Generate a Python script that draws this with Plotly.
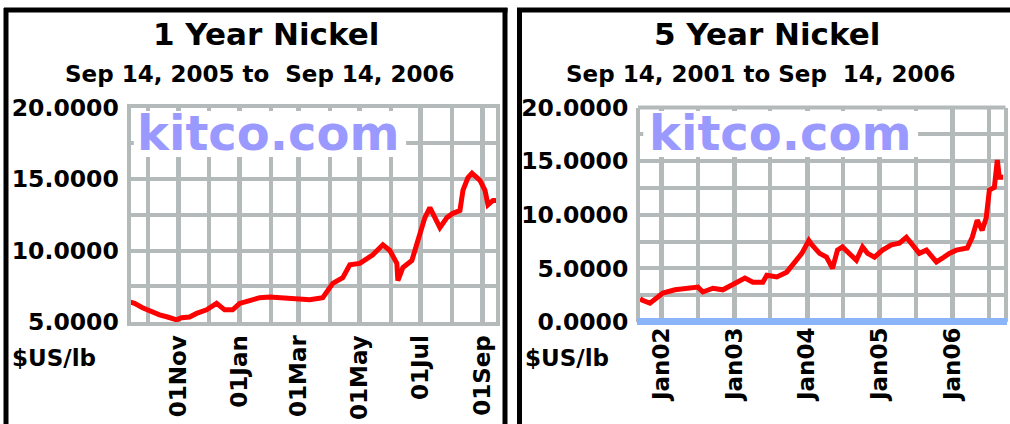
import plotly.graph_objects as go

W, H = 1010, 424

# ---------------- data ----------------
one_year_dates = [
    "2005-09-14", "2005-09-18", "2005-09-26", "2005-10-06", "2005-10-13", "2005-10-21",
    "2005-10-30", "2005-11-04", "2005-11-12", "2005-11-19", "2005-11-29", "2005-12-09",
    "2005-12-17", "2005-12-25", "2006-01-01", "2006-01-11", "2006-01-21", "2006-01-31",
    "2006-02-13", "2006-02-27", "2006-03-12", "2006-03-25", "2006-03-30", "2006-04-04",
    "2006-04-14", "2006-04-21", "2006-05-01", "2006-05-14", "2006-05-24", "2006-05-31",
    "2006-06-07", "2006-06-08", "2006-06-13", "2006-06-22", "2006-06-28", "2006-07-05",
    "2006-07-10", "2006-07-17", "2006-07-20", "2006-07-27", "2006-08-02", "2006-08-09",
    "2006-08-12", "2006-08-17", "2006-08-21", "2006-08-26", "2006-08-29", "2006-09-03",
    "2006-09-06", "2006-09-11", "2006-09-14",
]
one_year_values = [
    6.4, 6.3, 6.0, 5.7, 5.5, 5.35,
    5.15, 5.3, 5.35, 5.6, 5.85, 6.3,
    5.85, 5.85, 6.3, 6.5, 6.7, 6.75,
    6.7, 6.6, 6.55, 6.7, 7.2, 7.7,
    8.1, 9.0, 9.1, 9.7, 10.4, 10.0,
    9.1, 7.9, 8.8, 9.3, 10.7, 12.3,
    13.0, 12.1, 11.6, 12.3, 12.6, 12.8,
    14.2, 15.1, 15.4, 15.1, 14.9, 14.2,
    13.2, 13.5, 13.5,
]

five_year_dates = [
    "2001-09-14", "2001-09-24", "2001-11-03", "2001-12-08", "2002-01-07", "2002-03-09",
    "2002-05-08", "2002-07-02", "2002-07-27", "2002-09-15", "2002-11-04", "2003-01-04",
    "2003-02-23", "2003-04-04", "2003-05-24", "2003-06-13", "2003-08-02", "2003-09-21",
    "2003-10-31", "2003-12-06", "2004-01-10", "2004-01-25", "2004-03-04", "2004-04-08",
    "2004-05-08", "2004-06-02", "2004-06-27", "2004-08-01", "2004-09-05", "2004-10-06",
    "2004-10-31", "2004-12-05", "2005-01-14", "2005-02-28", "2005-04-09", "2005-05-14",
    "2005-06-13", "2005-07-18", "2005-08-23", "2005-10-12", "2005-11-11", "2005-12-16",
    "2006-01-20", "2006-03-16", "2006-04-10", "2006-05-05", "2006-05-30", "2006-06-19",
    "2006-07-05", "2006-07-30", "2006-08-14", "2006-08-24", "2006-09-14",
]
five_year_values = [
    2.2, 2.05, 1.75, 2.2, 2.7, 3.0,
    3.15, 3.25, 2.8, 3.15, 3.0, 3.6,
    4.1, 3.7, 3.7, 4.35, 4.2, 4.65,
    5.5, 6.4, 7.6, 7.2, 6.4, 6.05,
    5.0, 6.7, 7.0, 6.4, 5.75, 7.0,
    6.4, 6.05, 6.7, 7.2, 7.35, 7.9,
    7.2, 6.4, 6.7, 5.6, 5.95, 6.4,
    6.7, 6.9, 7.9, 9.5, 8.55, 9.7,
    12.3, 12.55, 15.1, 13.5, 13.5,
]

left_ytick_vals = [5, 10, 15, 20]
left_ytick_text = ["5.0000", "10.0000", "15.0000", "20.0000"]
left_yminor_vals = [7.5, 12.5, 17.5]
right_ytick_vals = [0, 5, 10, 15, 20]
right_ytick_text = ["0.0000", "5.0000", "10.0000", "15.0000", "20.0000"]
right_yminor_vals = [2.5, 7.5, 12.5, 17.5]

left_xtick_vals = ["2005-11-01", "2006-01-01", "2006-03-01", "2006-05-01", "2006-07-01", "2006-09-01"]
left_xtick_text = ["01Nov", "01Jan", "01Mar", "01May", "01Jul", "01Sep"]
left_xminor_vals = ["2005-10-01", "2005-12-01", "2006-02-01", "2006-04-01", "2006-06-01", "2006-08-01"]
right_xtick_vals = ["2002-01-01", "2003-01-01", "2004-01-01", "2005-01-01", "2006-01-01"]
right_xtick_text = ["Jan02", "Jan03", "Jan04", "Jan05", "Jan06"]
right_xminor_vals = ["2002-07-01", "2003-07-01", "2004-07-01", "2005-07-01", "2006-07-01"]

titles = ["1 Year Nickel", "5 Year Nickel"]
subtitles = ["Sep 14, 2005 to  Sep 14, 2006", "Sep 14, 2001 to Sep  14, 2006"]
unit_label = "$US/lb"
watermark = "kitco.com"

# ---------------- styling ----------------
GRID = "rgb(180,185,185)"
RED = "#ff0000"
BLUE = "#8cb4f8"
WM = "#9999ff"
FONT = "DejaVu Sans"


def px(p):
    return p / W


def py(p):
    return 1 - p / H


tickfont = dict(family=FONT, size=23.5, color="black", weight="bold")
xtickfont = dict(family=FONT, size=23, color="black", weight="bold")

fig = go.Figure()
fig.add_trace(go.Scatter(x=one_year_dates, y=one_year_values, mode="lines",
                         line=dict(color=RED, width=5), xaxis="x", yaxis="y",
                         showlegend=False, hoverinfo="skip"))
fig.add_trace(go.Scatter(x=five_year_dates, y=five_year_values, mode="lines",
                         line=dict(color=RED, width=5), xaxis="x2", yaxis="y2",
                         showlegend=False, hoverinfo="skip"))


def xaxis_cfg(domain, rng, tv, tt, mv, anchor, line=True):
    return dict(domain=domain, range=rng, type="date", anchor=anchor,
                tickmode="array", tickvals=tv, ticktext=tt, tickangle=-90,
                tickfont=xtickfont, ticks="",
                showgrid=True, gridcolor=GRID, gridwidth=5,
                minor=dict(tickmode="array", tickvals=mv, showgrid=True,
                           gridcolor=GRID, gridwidth=4, ticks=""),
                showline=line, mirror=True, linecolor=GRID, linewidth=4,
                zeroline=False, fixedrange=True, automargin=False)


def yaxis_cfg(domain, rng, tv, tt, mv, anchor):
    return dict(domain=domain, range=rng, anchor=anchor,
                tickmode="array", tickvals=tv, ticktext=tt,
                tickfont=tickfont, ticks="outside", ticklen=3, tickcolor="rgba(0,0,0,0)",
                showgrid=True, gridcolor=GRID, gridwidth=4,
                minor=dict(tickmode="array", tickvals=mv, showgrid=True,
                           gridcolor=GRID, gridwidth=4, ticks=""),
                showline=True, mirror=True, linecolor=GRID, linewidth=4,
                zeroline=False, fixedrange=True, automargin=False)


ydom = [py(322), py(107.5)]
fig.update_layout(
    xaxis=xaxis_cfg([px(130.5), px(496)], ["2005-09-14", "2006-09-14"],
                    left_xtick_vals, left_xtick_text, left_xminor_vals, "y"),
    yaxis=yaxis_cfg(ydom, [5, 20], left_ytick_vals, left_ytick_text, left_yminor_vals, "x"),
    xaxis2=xaxis_cfg([px(640), px(1003.5)], ["2001-09-14", "2006-09-14"],
                     right_xtick_vals, right_xtick_text, right_xminor_vals, "y2", line=False),
    yaxis2=yaxis_cfg(ydom, [0, 20], right_ytick_vals, right_ytick_text, right_yminor_vals, "x2"),
)

shapes = []
# gray top frame of the 5 year chart (its x axis line is replaced by the blue base line)
shapes.append(dict(type="line", xref="paper", yref="paper", x0=px(638), x1=px(1005.5),
                   y0=py(107.5), y1=py(107.5), line=dict(color=GRID, width=4), layer="above"))
# white watermark boxes
for xr, yr, x1 in (("x domain", "y domain", 0.754), ("x2 domain", "y2 domain", 0.765)):
    shapes.append(dict(type="rect", xref=xr, yref=yr, x0=0.009, x1=x1, y0=0.769, y1=0.984,
                       fillcolor="white", line=dict(width=0), layer="above"))
# blue base line on the 5 year chart
shapes.append(dict(type="line", xref="paper", yref="paper", x0=px(637), x1=px(1007),
                   y0=py(321.5), y1=py(321.5), line=dict(color=BLUE, width=7), layer="above"))
# black panel frames
frame = dict(color="black", width=5)
shapes += [
    dict(type="line", xref="paper", yref="paper", x0=px(6), x1=px(6), y0=py(8), y1=-0.1, line=frame),
    dict(type="line", xref="paper", yref="paper", x0=px(4), x1=px(507.5), y0=py(10), y1=py(10), line=frame),
    dict(type="line", xref="paper", yref="paper", x0=px(505), x1=px(505), y0=py(8), y1=-0.1, line=frame),
    dict(type="line", xref="paper", yref="paper", x0=px(519.5), x1=px(519.5), y0=py(8), y1=-0.1, line=frame),
    dict(type="line", xref="paper", yref="paper", x0=px(517), x1=1.05, y0=py(10), y1=py(10), line=frame),
]
fig.update_layout(shapes=shapes)

ann = []
for cx, t, s in ((266, titles[0], subtitles[0]), (767, titles[1], subtitles[1])):
    ann.append(dict(text=t, xref="paper", yref="paper", x=px(cx), y=py(34), xanchor="center",
                    yanchor="middle", showarrow=False,
                    font=dict(family=FONT, size=31, color="black", weight="bold")))
    ann.append(dict(text=s, xref="paper", yref="paper", x=px(cx - 6), y=py(74), xanchor="center",
                    yanchor="middle", showarrow=False,
                    font=dict(family=FONT, size=23, color="black", weight="bold")))
for lx in (10, 523):
    ann.append(dict(text=unit_label, xref="paper", yref="paper", x=px(lx), y=py(358),
                    xanchor="left", yanchor="middle", showarrow=False,
                    font=dict(family=FONT, size=23, color="black", weight="bold")))
for cx in (267.5, 780):
    ann.append(dict(text=watermark, xref="paper", yref="paper", x=px(cx), y=py(133),
                    xanchor="center", yanchor="middle", showarrow=False,
                    font=dict(family=FONT, size=48, color=WM, weight="bold")))
fig.update_layout(annotations=ann)

fig.update_layout(width=W, height=H, autosize=False,
                  margin=dict(l=0, r=0, t=0, b=0, pad=0, autoexpand=False),
                  paper_bgcolor="white", plot_bgcolor="white", showlegend=False)

pin_js = (
    "document.documentElement.style.margin='0';"
    "document.body.style.margin='0';"
    "document.body.style.overflow='hidden';"
    "var d=document.getElementById('{plot_id}');"
    "d.style.position='fixed';d.style.left='0px';d.style.top='0px';"
)
fig.write_html("out.html", config={"displayModeBar": False}, post_script=pin_js)
